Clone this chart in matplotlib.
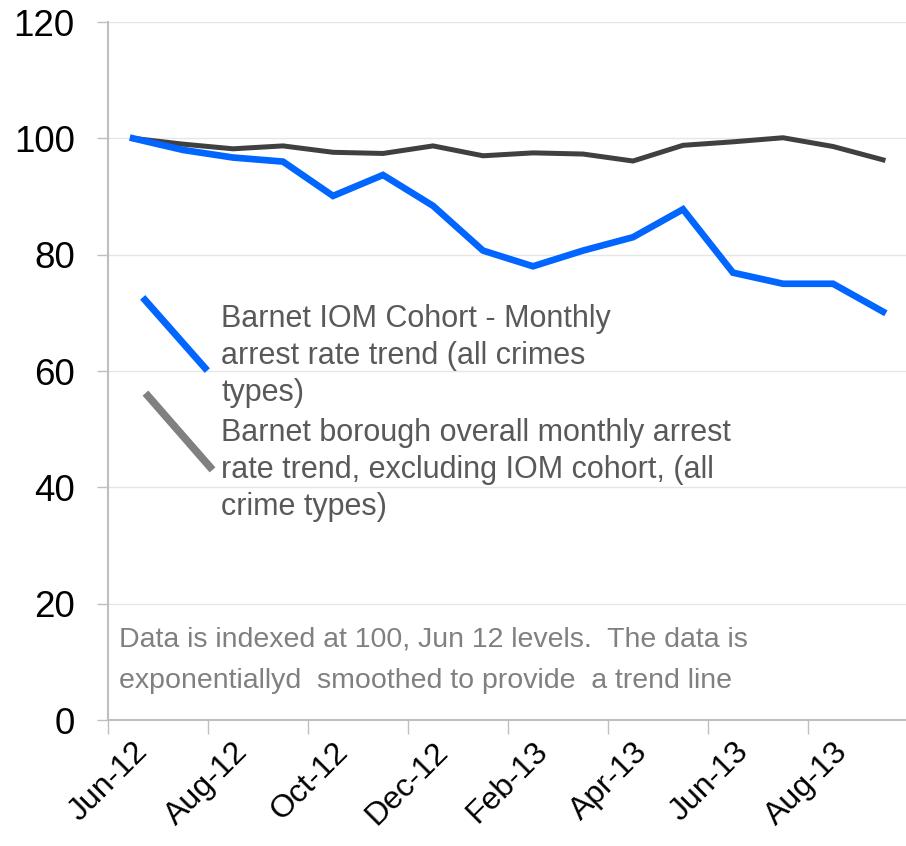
import matplotlib
matplotlib.use("Agg")
import matplotlib.pyplot as plt
import numpy as np

# months of the series (Jun-12 .. Sep-13)
months = ["Jun-12", "Jul-12", "Aug-12", "Sep-12", "Oct-12", "Nov-12", "Dec-12", "Jan-13",
          "Feb-13", "Mar-13", "Apr-13", "May-13", "Jun-13", "Jul-13", "Aug-13", "Sep-13"]
iom_cohort = [100, 98.0, 96.7, 96.0, 90.1, 93.7, 88.4, 80.7,
              78.0, 80.7, 83.0, 87.8, 76.9, 75.0, 75.0, 70.2]
borough = [100, 99.0, 98.2, 98.7, 97.6, 97.4, 98.7, 97.0,
           97.5, 97.3, 96.1, 98.8, 99.4, 100.1, 98.6, 96.3]
yticks = [0, 20, 40, 60, 80, 100, 120]

legend_iom = "Barnet IOM Cohort - Monthly\narrest rate trend (all crimes\ntypes)"
legend_borough = ("Barnet borough overall monthly arrest\n"
                  "rate trend, excluding IOM cohort, (all\ncrime types)")
note = ("Data is indexed at 100, Jun 12 levels.  The data is\n"
        "exponentiallyd  smoothed to provide  a trend line")

plt.rcParams["font.family"] = ["Liberation Sans", "DejaVu Sans"]

fig = plt.figure(figsize=(9.06, 8.46), dpi=100)
ax = fig.add_axes([108 / 906, 126 / 846, 800 / 906, 698 / 846])

x = np.arange(len(months))
ax.plot(x, borough, color="#404040", lw=3.6, solid_joinstyle="miter")
ax.plot(x, iom_cohort, color="#0066ff", lw=4.8, solid_joinstyle="miter")

ax.set_xlim(-0.5, len(months) - 0.5)
ax.set_ylim(0, 120)
ax.set_yticks(yticks)
ax.set_yticklabels([str(v) for v in yticks], fontsize=26.5)
ax.tick_params(axis="y", length=8, width=1, color="#bfbfbf", pad=16)
ax.grid(axis="y", color="#e6e6e6", lw=1)
ax.set_axisbelow(True)

# labels at every other month, tick marks between categories
ax.set_xticks(x[::2])
ax.set_xticklabels(months[::2], rotation=45, ha="right", rotation_mode="anchor",
                   fontsize=23)
ax.tick_params(axis="x", length=0, pad=12)
ax.set_xticks(x[::2] - 0.5, minor=True)
ax.tick_params(axis="x", which="minor", length=10, width=1, color="#bfbfbf")

for side in ["top", "right"]:
    ax.spines[side].set_visible(False)
for side in ["left", "bottom"]:
    ax.spines[side].set_color("#bfbfbf")
    ax.spines[side].set_linewidth(1.5)

# legend drawn by hand, keys are slanted strokes
def fx(px):
    return (px - 108) / 800

def fy(py):
    return (720 - py) / 698

ax.plot([fx(145), fx(205)], [fy(300), fy(368)], color="#0066ff", lw=5,
        transform=ax.transAxes, clip_on=False)
ax.plot([fx(148), fx(210)], [fy(396), fy(467)], color="#808080", lw=5.5,
        transform=ax.transAxes, clip_on=False)
ax.text(fx(221), fy(304), legend_iom, transform=ax.transAxes, va="top", ha="left",
        fontsize=22, color="#595959", linespacing=1.3)
ax.text(fx(221), fy(418), legend_borough, transform=ax.transAxes, va="top", ha="left",
        fontsize=22, color="#595959", linespacing=1.3)

ax.text(fx(119), fy(627), note, transform=ax.transAxes, va="top", ha="left",
        fontsize=20.5, color="#808080", linespacing=1.75)

fig.savefig("out.png", dpi=100)
